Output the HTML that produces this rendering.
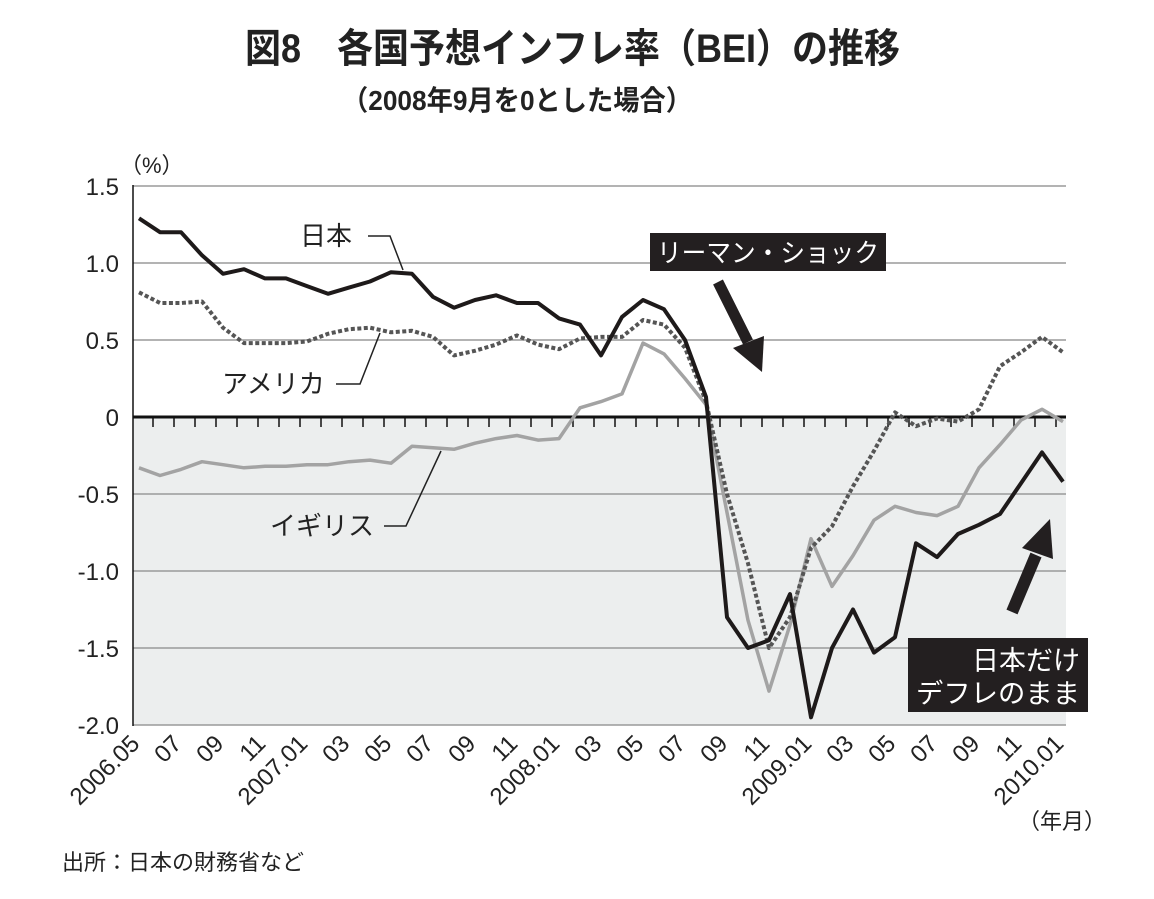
<!DOCTYPE html>
<html><head><meta charset="utf-8">
<style>
body{margin:0;background:#fff;}
svg{display:block;font-family:"Liberation Sans","Noto Sans CJK JP",sans-serif;}
</style></head>
<body>
<svg id="chart" width="1154" height="899" viewBox="0 0 1154 899" xmlns="http://www.w3.org/2000/svg">
<rect width="1154" height="899" fill="#fff"/>
<text x="245" y="62" font-size="40" font-weight="bold" textLength="655" lengthAdjust="spacingAndGlyphs" fill="#222">図8　各国予想インフレ率（BEI）の推移</text>
<text x="342" y="110" font-size="28" font-weight="bold" textLength="350" lengthAdjust="spacingAndGlyphs" fill="#222">（2008年9月を0とした場合）</text>
<text x="120" y="173" font-size="22" fill="#222">（%）</text>
<rect x="133" y="417" width="933" height="308" fill="#eceeee"/>
<g id="grid"></g>
<g id="series"></g>
<g id="xlabels"></g>
<text x="300" y="245" font-size="26" fill="#222">日本</text>
<polyline points="368,236 390,236 403,270" fill="none" stroke="#222" stroke-width="1.5"/>
<text x="222" y="393" font-size="26" fill="#222">アメリカ</text>
<polyline points="336,384 360,384 380,333" fill="none" stroke="#222" stroke-width="1.5"/>
<text x="270" y="535" font-size="26" fill="#222">イギリス</text>
<polyline points="384,526 406,526 441,451" fill="none" stroke="#222" stroke-width="1.5"/>
<rect x="650" y="233" width="236" height="38" fill="#231f20"/>
<text x="768" y="262" font-size="26" fill="#fff" text-anchor="middle" textLength="222" lengthAdjust="spacingAndGlyphs">リーマン・ショック</text>
<g>
<line x1="718" y1="282" x2="748" y2="342" stroke="#231f20" stroke-width="11"/>
<polygon points="733,348 764,336 762,372" fill="#231f20"/>
</g>
<g>
<line x1="1012" y1="612" x2="1036" y2="555" stroke="#231f20" stroke-width="12"/>
<polygon points="1022,548 1053,559 1050,519" fill="#231f20"/>
</g>
<rect x="908" y="638" width="180" height="74" fill="#231f20"/>
<text x="1080" y="670" font-size="27" fill="#fff" text-anchor="end">日本だけ</text>
<text x="1080" y="703" font-size="27" fill="#fff" text-anchor="end" textLength="164" lengthAdjust="spacingAndGlyphs">デフレのまま</text>
<text x="1018" y="829" font-size="22" fill="#222">（年月）</text>
<text x="62" y="870" font-size="22" fill="#222">出所：日本の財務省など</text>
</svg>
<script>
const yTicks = [1.5, 1.0, 0.5, 0, -0.5, -1.0, -1.5, -2.0];
const yTickLabels = ["1.5", "1.0", "0.5", "0", "-0.5", "-1.0", "-1.5", "-2.0"];
const xLabels = ["2006.05","07","09","11","2007.01","03","05","07","09","11","2008.01","03","05","07","09","11","2009.01","03","05","07","09","11","2010.01"];
const japan = [1.29,1.20,1.20,1.05,0.93,0.96,0.90,0.90,0.85,0.80,0.84,0.88,0.94,0.93,0.78,0.71,0.76,0.79,0.74,0.74,0.64,0.60,0.40,0.65,0.76,0.70,0.50,0.13,-1.30,-1.50,-1.45,-1.15,-1.95,-1.50,-1.25,-1.53,-1.43,-0.82,-0.91,-0.76,-0.70,-0.63,-0.43,-0.23,-0.42];
const america = [0.81,0.74,0.74,0.75,0.58,0.48,0.48,0.48,0.49,0.54,0.57,0.58,0.55,0.56,0.52,0.40,0.43,0.47,0.53,0.47,0.44,0.51,0.52,0.52,0.63,0.60,0.45,0.10,-0.50,-0.95,-1.50,-1.30,-0.85,-0.71,-0.45,-0.22,0.03,-0.06,-0.01,-0.03,0.05,0.33,0.42,0.52,0.42];
const uk = [-0.33,-0.38,-0.34,-0.29,-0.31,-0.33,-0.32,-0.32,-0.31,-0.31,-0.29,-0.28,-0.30,-0.19,-0.20,-0.21,-0.17,-0.14,-0.12,-0.15,-0.14,0.06,0.10,0.15,0.48,0.41,0.25,0.08,-0.62,-1.32,-1.78,-1.35,-0.79,-1.10,-0.90,-0.67,-0.58,-0.62,-0.64,-0.58,-0.33,-0.18,-0.02,0.05,-0.03];

const NS = "http://www.w3.org/2000/svg";
const X0 = 139, DX = 21.0, PL = 133, PR = 1066;
function xPos(i){ return X0 + i*DX; }
function yPos(v){ return 417 - v*154; }
function mk(tag, attrs, parent){ const e=document.createElementNS(NS,tag); for(const k in attrs) e.setAttribute(k,attrs[k]); parent.appendChild(e); return e; }

const grid = document.getElementById('grid');
yTicks.forEach((v,i)=>{
  const ln = mk('line',{x1:PL,x2:PR,y1:yPos(v),y2:yPos(v),stroke: v===0?'#111':'#9a9a9a','stroke-width': v===0?3:1.5},grid);
  
  
  const t = mk('text',{x:119,y:yPos(v)+9,'font-size':24,'text-anchor':'end',fill:'#222'},grid);
  t.textContent = yTickLabels[i];
  
  
});
const ax = mk('line',{x1:PL,x2:PL,y1:185,y2:726,stroke:'#111','stroke-width':1.5},grid);


for(let i=0;i<japan.length;i++){
  const tx = xPos(i)+14;
  if(tx>PR) break;
  const tk = mk('line',{x1:tx,x2:tx,y1:417,y2:427,stroke:'#111','stroke-width':1.5},grid);
  
  
}

const sg = document.getElementById('series');
function drawLine(vals, name, stroke, width, dash){
  const pts = vals.map((v,i)=>xPos(i).toFixed(1)+','+yPos(v).toFixed(1)).join(' ');
  const p = mk('polyline',{points:pts,fill:'none',stroke:stroke,'stroke-width':width,'stroke-linejoin':'round'},sg);
  if(dash) p.setAttribute('stroke-dasharray', dash);
  
  
}
drawLine(uk, 'series-uk', '#a3a3a3', 3.5, null);
drawLine(america, 'series-america', '#555', 4, '4 2.5');
drawLine(japan, 'series-japan', '#1e1a1a', 4, null);

const xg = document.getElementById('xlabels');
xLabels.forEach((lab,i)=>{
  const x = xPos(i*2) + 2, y = 745;
  const t = mk('text',{x:x,y:y,'font-size':24,'text-anchor':'end',fill:'#222',transform:`rotate(-45 ${x} ${y})`},xg);
  t.textContent = lab;
  
  
});
</script>
</body></html>
